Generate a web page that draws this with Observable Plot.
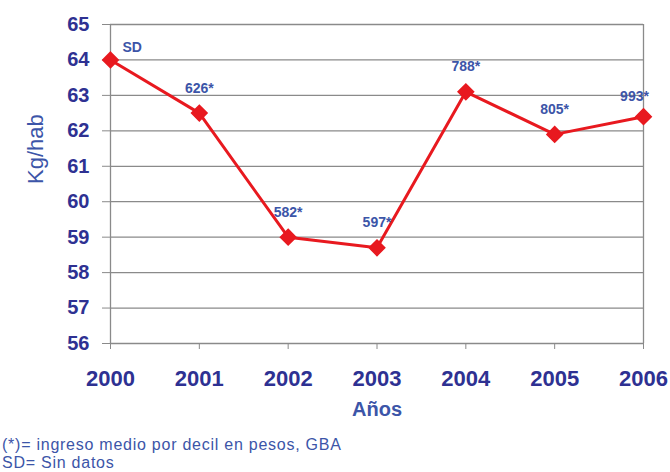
<!DOCTYPE html>
<html>
<head>
<meta charset="utf-8">
<script src="https://cdn.jsdelivr.net/npm/d3@7"></script>
<script src="https://cdn.jsdelivr.net/npm/@observablehq/plot@0.6"></script>
<style>
  html, body { margin: 0; padding: 0; background: #ffffff; }
  #chart svg { display: block; }
  .notes { font-family: "Liberation Sans", Arial, sans-serif; font-size: 16px; letter-spacing: 0.75px; color: #3c55a8; line-height: 18px; padding-left: 2px; padding-top: 11px; }
</style>
</head>
<body>
<div id="chart"></div>
<div class="notes">
  <div>(*)= ingreso medio por decil en pesos, GBA</div>
  <div>SD= Sin datos</div>
</div>
<script>
const years = [2000, 2001, 2002, 2003, 2004, 2005, 2006];
const kgPerHab = [64.0, 62.5, 59.0, 58.7, 63.1, 61.9, 62.4];
const incomeLabels = ["SD", "626*", "582*", "597*", "788*", "805*", "993*"];
const yTicks = [56, 57, 58, 59, 60, 61, 62, 63, 64, 65];

const data = years.map((y, i) => ({year: y, value: kgPerHab[i], label: incomeLabels[i]}));

const navy = "#2e3192";
const blue = "#3c55a8";
const red = "#e8191f";
const grid = "#8a8a8a";

const chart = Plot.plot({
  width: 670,
  height: 425,
  marginLeft: 110,
  marginRight: 27,
  marginTop: 24,
  marginBottom: 82,
  style: {fontFamily: "'Liberation Sans', Arial, sans-serif", background: "#ffffff"},
  x: {domain: [2000, 2006]},
  y: {domain: [56, 65]},
  marks: [
    Plot.ruleY(yTicks, {stroke: grid, strokeWidth: 1.3}),
    Plot.ruleX([years[0], years[years.length - 1]], {y1: 56, y2: 65, stroke: grid, strokeWidth: 1.3}),
    Plot.axisX({ticks: years, tickFormat: d => String(d), tickSize: 6, tickPadding: 21, stroke: grid, fill: navy, fontSize: 22, fontWeight: "bold", label: null}),
    Plot.axisY({ticks: yTicks, tickSize: 8, tickPadding: 13, stroke: grid, fill: navy, fontSize: 20, fontWeight: "bold", label: null}),
    Plot.text(["Años"], {frameAnchor: "bottom", dy: 72, fill: blue, fontSize: 20, fontWeight: "bold"}),
    Plot.text(["Kg/hab"], {frameAnchor: "left", dx: -75, rotate: -90, fill: blue, fontSize: 22}),
    Plot.line(data, {x: "year", y: "value", stroke: red, strokeWidth: 3}),
    Plot.dot(data, {x: "year", y: "value", symbol: "diamond2", r: 7, fill: red, stroke: red}),
    Plot.text(data.filter(d => d.label === "SD"), {x: "year", y: "value", text: "label", textAnchor: "start", dx: 12, dy: -12, fill: blue, fontSize: 14, fontWeight: "bold"}),
    Plot.text(data.filter(d => d.label !== "SD" && d.year !== 2006), {x: "year", y: "value", text: "label", dy: -25, fill: blue, fontSize: 14, fontWeight: "bold"}),
    Plot.text(data.filter(d => d.year === 2006), {x: "year", y: "value", text: "label", dx: -9, dy: -20, fill: blue, fontSize: 14, fontWeight: "bold"})
  ]
});
document.getElementById("chart").appendChild(chart);
</script>
</body>
</html>
